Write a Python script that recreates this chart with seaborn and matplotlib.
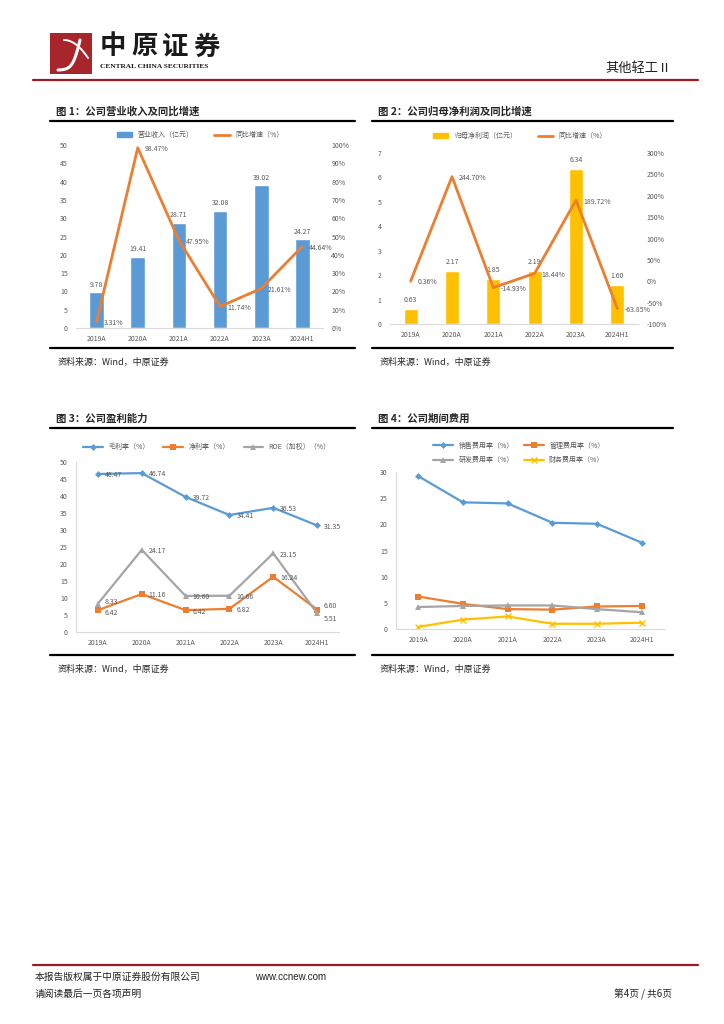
import numpy as np
import pandas as pd
import matplotlib
matplotlib.use('Agg')
import matplotlib.pyplot as plt
import seaborn as sns
from matplotlib.patches import Rectangle, Patch
from matplotlib.lines import Line2D

#Chart data.
years = ['2019A', '2020A', '2021A', '2022A', '2023A', '2024H1']
revenue = [9.78, 19.41, 28.71, 32.08, 39.02, 24.27]
revenue_yoy = [3.31, 98.47, 47.95, 11.74, 21.61, 44.64]
profit = [0.63, 2.17, 1.85, 2.19, 6.34, 1.60]
profit_yoy = [0.36, 244.70, -14.93, 18.44, 189.72, -63.85]
gross_margin = [46.47, 46.74, 39.72, 34.41, 36.53, 31.35]
net_margin = [6.42, 11.16, 6.42, 6.82, 16.24, 6.60]
roe = [8.33, 24.17, 10.60, 10.66, 23.15, 5.51]
sales_exp = [29.2, 24.2, 24.0, 20.3, 20.1, 16.5]
admin_exp = [6.2, 4.8, 3.8, 3.7, 4.3, 4.4]
rd_exp = [4.2, 4.4, 4.5, 4.5, 3.8, 3.2]
fin_exp = [0.4, 1.8, 2.4, 1.0, 1.0, 1.2]

BLUE, ORANGE, GRAY, YELLOW = '#5B9BD5', '#ED7D31', '#A5A5A5', '#FFC000'
TXT = '#595959'
RED = '#9E1B20'

sns.set_theme(style='white')
plt.rcParams['font.family'] = ['Noto Sans CJK SC', 'DejaVu Sans']
plt.rcParams['axes.unicode_minus'] = False

W, H = 724, 1024
fig = plt.figure(figsize=(W / 100, H / 100), dpi=100)


def box(x0, y0, x1, y1):
    return [x0 / W, 1 - y1 / H, (x1 - x0) / W, (y1 - y0) / H]


def ftext(x, y, s, **kw):
    fig.text(x / W, 1 - y / H, s, **kw)


def hline(x0, x1, y, color='black', lw=1.5):
    fig.add_artist(Line2D([x0 / W, x1 / W], [1 - y / H, 1 - y / H], color=color, lw=lw))


def style_axis(ax, left_spine=False):
    n = len(years)
    ax.set_xlim(-0.5, n - 0.5)
    for s in ['top', 'right', 'left']:
        ax.spines[s].set_visible(False)
    if left_spine:
        ax.spines['left'].set_visible(True)
        ax.spines['left'].set_color('#d9d9d9')
        ax.spines['left'].set_linewidth(0.8)
    ax.spines['bottom'].set_color('#d9d9d9')
    ax.spines['bottom'].set_linewidth(0.8)
    ax.set_xticks(range(n))
    ax.set_xticklabels(years)
    ax.set_xticks(np.arange(-0.5, n), minor=True)
    ax.tick_params(axis='x', which='major', length=0, labelsize=5, labelcolor=TXT, pad=5)
    ax.tick_params(axis='x', which='minor', length=3, color='#d9d9d9', width=0.8, direction='out')
    ax.tick_params(axis='y', length=0, labelsize=5, labelcolor=TXT, pad=6)
    ax.set_xlabel('')
    ax.set_ylabel('')
    ax.grid(False)


def panel_frame(x0, x1, ytitle, ytop, ybot, title):
    ftext(x0 + 6, ytitle, title, fontsize=7.5, fontweight='bold', va='center')
    hline(x0, x1, ytop, 'black', 1.6)
    hline(x0, x1, ybot, 'black', 1.6)
    ftext(x0 + 8, ybot + 14, '资料来源：Wind，中原证券', fontsize=6.5, va='center')


def right_labels(ax, vals, fmt, dy=None):
    for i, v in enumerate(vals):
        off = -1 if dy is None else dy[i]
        ax.annotate(fmt.format(v), (i, v), xytext=(5, off), textcoords='offset points',
                    ha='left', va='center', fontsize=5, color=TXT)


#Header
fig.add_artist(Rectangle((50 / W, 1 - 74 / H), 42 / W, 41 / H, transform=fig.transFigure,
                         color='#A8262B', lw=0))
t = np.linspace(0, 1, 50)
fig.add_artist(Line2D((58 + 22 * t ** 0.6) / W, 1 - (70 - 30 * t + 8 * np.sin(np.pi * t)) / H,
                      color='white', lw=2.2, transform=fig.transFigure))
fig.add_artist(Line2D((64 + 24 * t) / W, 1 - (40 + 18 * t ** 2) / H,
                      color='white', lw=1.4, transform=fig.transFigure))
for i, ch in enumerate('中原证券'):
    ftext(100 + i * 31, 47, ch, fontsize=19, fontweight='heavy', va='center', color='#1a1a1a')
ftext(100, 66, 'CENTRAL CHINA SECURITIES', fontsize=5.3, fontweight='bold', va='center',
      family=['Liberation Serif', 'DejaVu Serif'], color='#1a1a1a')
ftext(672, 68, '其他轻工Ⅱ', fontsize=9.5, ha='right', va='center', color='#222222')
hline(33, 698, 80, RED, 1.6)

#Footer
hline(33, 698, 965, RED, 1.6)
ftext(35, 977, '本报告版权属于中原证券股份有限公司', fontsize=7, va='center', color='#222222')
ftext(255, 977, 'www.ccnew.com', fontsize=7, va='center', color='#222222',
      family=['Liberation Sans', 'DejaVu Sans'])
ftext(35, 994, '请阅读最后一页各项声明', fontsize=7, va='center', color='#222222')
ftext(672, 994, '第4页 / 共6页', fontsize=7, ha='right', va='center', color='#222222')

#Figure 1: revenue and growth
panel_frame(50, 355, 112, 121, 348, '图 1：公司营业收入及同比增速')
ax1 = fig.add_axes(box(76, 145, 323, 328))
df1 = pd.DataFrame({'year': years, 'revenue': revenue, 'yoy': revenue_yoy})
sns.barplot(data=df1, x='year', y='revenue', color=BLUE, width=0.36, saturation=1, ax=ax1)
ax1.set_ylim(0, 50)
ax1.set_yticks(range(0, 51, 5))
for i, v in enumerate(revenue):
    ax1.text(i, v + 1, f'{v:.2f}', ha='center', va='bottom', fontsize=5, color=TXT)
ax1b = ax1.twinx()
sns.lineplot(x=np.arange(len(years)), y=revenue_yoy, color=ORANGE, lw=2, ax=ax1b)
ax1b.set_ylim(0, 100)
ax1b.set_yticks(range(0, 101, 10))
ax1b.set_yticklabels([f'{v}%' for v in range(0, 101, 10)])
right_labels(ax1b, revenue_yoy, '{:.2f}%')
style_axis(ax1)
style_axis(ax1b)
ax1b.tick_params(axis='x', which='minor', length=0)
ax1b.spines['bottom'].set_visible(False)
ax1.legend([Patch(color=BLUE), Line2D([], [], color=ORANGE, lw=2)],
           ['营业收入（亿元）', '同比增速（%）'], loc='center', ncol=2, frameon=False,
           bbox_to_anchor=(200 / W, 1 - 135 / H), bbox_transform=fig.transFigure,
           fontsize=5, labelcolor=TXT, handlelength=2.2, handleheight=0.6, columnspacing=3)

#Figure 2: net profit and growth
panel_frame(372, 673, 112, 121, 348, '图 2：公司归母净利润及同比增速')
ax2 = fig.add_axes(box(390, 153, 638, 324))
df2 = pd.DataFrame({'year': years, 'profit': profit, 'yoy': profit_yoy})
sns.barplot(data=df2, x='year', y='profit', color=YELLOW, width=0.34, saturation=1, ax=ax2)
ax2.set_ylim(0, 7)
ax2.set_yticks(range(0, 8))
for i, v in enumerate(profit):
    ax2.text(i, v + 0.2, f'{v:.2f}', ha='center', va='bottom', fontsize=5, color=TXT)
ax2b = ax2.twinx()
sns.lineplot(x=np.arange(len(years)), y=profit_yoy, color=ORANGE, lw=2, ax=ax2b)
ax2b.set_ylim(-100, 300)
ax2b.set_yticks(range(-100, 301, 50))
ax2b.set_yticklabels([f'{v}%' for v in range(-100, 301, 50)])
right_labels(ax2b, profit_yoy, '{:.2f}%')
style_axis(ax2)
style_axis(ax2b)
ax2b.tick_params(axis='x', which='minor', length=0)
ax2b.spines['bottom'].set_visible(False)
ax2.legend([Patch(color=YELLOW), Line2D([], [], color=ORANGE, lw=2)],
           ['归母净利润（亿元）', '同比增速（%）'], loc='center', ncol=2, frameon=False,
           bbox_to_anchor=(520 / W, 1 - 136 / H), bbox_transform=fig.transFigure,
           fontsize=5, labelcolor=TXT, handlelength=2.2, handleheight=0.6, columnspacing=3)

#Figure 3: profitability
panel_frame(50, 355, 419, 428, 655, '图 3：公司盈利能力')
ax3 = fig.add_axes(box(76, 462, 339, 632))
x = np.arange(len(years))
for vals, col, mk, ms, name, dy in [
        (gross_margin, BLUE, 'D', 3.5, '毛利率（%）', None),
        (net_margin, ORANGE, 's', 5, '净利率（%）', [-2, -1, -1, -1, -1, 2.5]),
        (roe, GRAY, '^', 5, 'ROE（加权）（%）', [1, -1, -1, -1, -1, -4])]:
    sns.lineplot(x=x, y=vals, color=col, lw=1.6, marker=mk, markersize=ms,
                 markeredgewidth=0, label=name, ax=ax3)
    right_labels(ax3, vals, '{:.2f}', dy)
ax3.set_ylim(0, 50)
ax3.set_yticks(range(0, 51, 5))
style_axis(ax3, left_spine=True)
ax3.legend(loc='center', ncol=3, frameon=False,
           bbox_to_anchor=(207 / W, 1 - 447 / H), bbox_transform=fig.transFigure,
           fontsize=5, labelcolor=TXT, handlelength=2.8, columnspacing=2)

#Figure 4: expense ratios
panel_frame(372, 673, 419, 428, 655, '图 4：公司期间费用')
ax4 = fig.add_axes(box(396, 472, 664, 629))
for vals, col, mk, ms, name in [(sales_exp, BLUE, 'D', 3.5, '销售费用率（%）'),
                                (admin_exp, ORANGE, 's', 5, '管理费用率（%）'),
                                (rd_exp, GRAY, '^', 5, '研发费用率（%）'),
                                (fin_exp, YELLOW, 'x', 4, '财务费用率（%）')]:
    sns.lineplot(x=x, y=vals, color=col, lw=1.6, marker=mk, markersize=ms,
                 markeredgewidth=0 if mk != 'x' else 1, markeredgecolor=col, label=name, ax=ax4)
ax4.set_ylim(0, 30)
ax4.set_yticks(range(0, 31, 5))
style_axis(ax4, left_spine=True)
handles, labels = ax4.get_legend_handles_labels()
order = [0, 2, 1, 3]
ax4.legend([handles[i] for i in order], [labels[i] for i in order], loc='center', ncol=2,
           frameon=False, bbox_to_anchor=(519 / W, 1 - 453 / H), bbox_transform=fig.transFigure,
           fontsize=5, labelcolor=TXT, handlelength=2.8, columnspacing=1.5, labelspacing=0.9)

fig.savefig('out.png', dpi=100)
